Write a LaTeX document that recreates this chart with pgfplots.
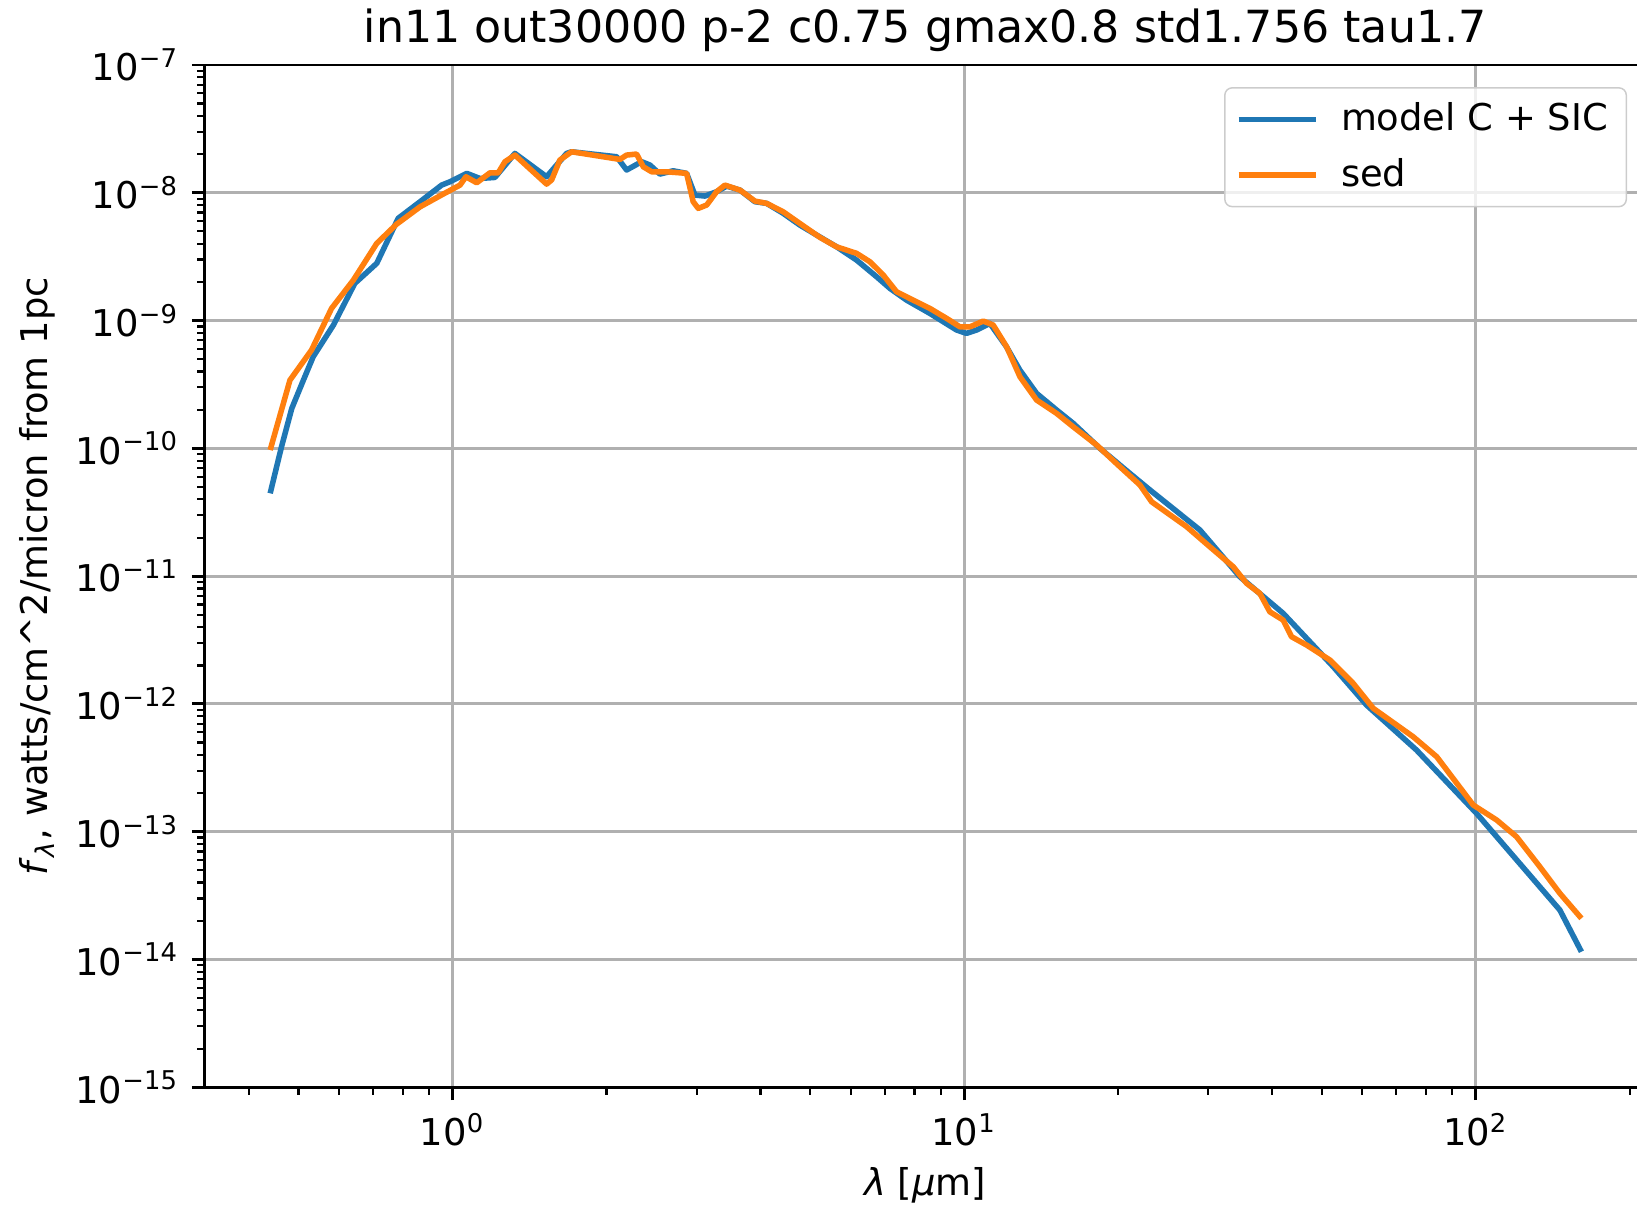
\documentclass[border=0pt]{standalone}
\usepackage{fontspec}
\setmainfont{DejaVu Sans}
\usepackage{pgfplots}
\pgfplotsset{compat=1.18}
\definecolor{mplblue}{HTML}{1F77B4}
\definecolor{mplorange}{HTML}{FF7F0E}
\definecolor{gridgray}{HTML}{B0B0B0}
\definecolor{legendgray}{HTML}{CCCCCC}
\begin{document}
\begin{tikzpicture}
\clip (-55.5pt,-33pt) rectangle (388.2pt,294.7pt);
\begin{axis}[
  at={(0pt,0pt)}, anchor=south west,
  scale only axis, width=390.5pt, height=277.1pt,
  xmode=log, ymode=log,
  xmin=0.3278, xmax=214.8, ymin=1e-15, ymax=1e-7,
  xtick={1,10,100},
  xticklabels={10\textsuperscript{0},10\textsuperscript{1},10\textsuperscript{2}},
  minor xtick={0.4,0.5,0.6,0.7,0.8,0.9,2,3,4,5,6,7,8,9,20,30,40,50,60,70,80,90,200},
  ytick={1e-15,1e-14,1e-13,1e-12,1e-11,1e-10,1e-9,1e-8,1e-7},
  yticklabels={10\textsuperscript{−15},10\textsuperscript{−14},10\textsuperscript{−13},10\textsuperscript{−12},10\textsuperscript{−11},10\textsuperscript{−10},10\textsuperscript{−9},10\textsuperscript{−8},10\textsuperscript{−7}},
  minor ytick={2e-15,3e-15,4e-15,5e-15,6e-15,7e-15,8e-15,9e-15,
    2e-14,3e-14,4e-14,5e-14,6e-14,7e-14,8e-14,9e-14,
    2e-13,3e-13,4e-13,5e-13,6e-13,7e-13,8e-13,9e-13,
    2e-12,3e-12,4e-12,5e-12,6e-12,7e-12,8e-12,9e-12,
    2e-11,3e-11,4e-11,5e-11,6e-11,7e-11,8e-11,9e-11,
    2e-10,3e-10,4e-10,5e-10,6e-10,7e-10,8e-10,9e-10,
    2e-9,3e-9,4e-9,5e-9,6e-9,7e-9,8e-9,9e-9,
    2e-8,3e-8,4e-8,5e-8,6e-8,7e-8,8e-8,9e-8},
  tick pos=left, tick align=outside,
  major tick length=3.5pt, minor tick length=2pt,
  every tick/.style={black, line width=0.8pt},
  minor tick style={black, line width=0.6pt},
  axis line style={line width=0.8pt},
  grid=major, major grid style={color=gridgray, line width=0.8pt},
  tick label style={font=\fontsize{10}{12}\selectfont},
  title={in11 out30000 p-2 c0.75 gmax0.8 std1.756 tau1.7},
  title style={font=\fontsize{12}{14}\selectfont, at={(0.5,1)}, anchor=base},
  xlabel={\textit{λ} [\textit{μ}m]},
  ylabel={\textit{f}\textsubscript{\textit{λ}}, watts/cm\textasciicircum 2/micron from 1pc},
  label style={font=\fontsize{10}{12}\selectfont},
  xlabel style={at={(axis description cs:0.5,-0.0956)}, anchor=center},
  ylabel style={at={(axis description cs:-0.116,0.5)}, anchor=center, rotate=0},
  legend style={at={(1,1)}, anchor=north east, xshift=-5pt, yshift=-6pt,
    draw=legendgray, rounded corners=2pt, fill=white, fill opacity=0.8, text opacity=1,
    font=\fontsize{10}{12}\selectfont, inner xsep=3pt, inner ysep=2pt, row sep=2pt},
  legend cell align=left,
  legend image code/.code={\draw[#1] (0pt,0pt) -- (21pt,0pt); \path (25pt,0pt);},
]
\addplot[mplblue, line width=1.5pt, line join=round] coordinates {
(0.440,4.446e-11) (0.463,1.028e-10) (0.485,2.056e-10) (0.511,3.420e-10)
(0.534,5.212e-10) (0.585,9.225e-10) (0.644,1.954e-9) (0.711,2.805e-9)
(0.783,6.310e-9) (0.864,8.511e-9) (0.952,1.148e-8) (0.988,1.219e-8)
(1.066,1.419e-8) (1.131,1.294e-8) (1.210,1.318e-8) (1.324,2.032e-8)
(1.527,1.334e-8) (1.671,2.032e-8) (1.709,2.094e-8) (2.093,1.914e-8)
(2.189,1.507e-8) (2.342,1.750e-8) (2.431,1.648e-8) (2.543,1.400e-8)
(2.700,1.486e-8) (2.868,1.419e-8) (2.977,9.594e-9) (3.115,9.419e-9)
(3.282,1.019e-8) (3.434,1.127e-8) (3.646,1.050e-8) (3.900,8.511e-9)
(4.112,8.260e-9) (4.430,6.902e-9) (4.775,5.585e-9) (5.149,4.667e-9)
(5.634,3.776e-9) (6.164,2.972e-9) (6.745,2.203e-9) (7.162,1.786e-9)
(7.719,1.445e-9) (8.572,1.138e-9) (9.667,8.433e-10) (10.11,7.943e-10)
(10.58,8.433e-10) (11.23,9.506e-10) (12.10,6.237e-10) (12.85,4.102e-10)
(13.86,2.692e-10) (15.17,1.995e-10) (16.35,1.567e-10) (18.43,1.000e-10)
(21.09,6.368e-11) (23.09,4.721e-11) (28.91,2.296e-11) (34.61,9.886e-12)
(42.05,5.117e-12) (52.70,1.954e-12) (61.21,9.795e-13) (76.65,4.355e-13)
(100.4,1.393e-13) (146.1,2.438e-14) (161.0,1.151e-14)
};
\addlegendentry{model C + SIC}
\addplot[mplorange, line width=1.5pt, line join=round] coordinates {
(0.440,9.705e-11) (0.481,3.420e-10) (0.530,5.875e-10) (0.580,1.245e-9)
(0.640,2.075e-9) (0.711,4.018e-9) (0.778,5.689e-9) (0.864,7.762e-9)
(0.959,9.772e-9) (1.034,1.148e-8) (1.062,1.334e-8) (1.115,1.197e-8)
(1.183,1.432e-8) (1.228,1.432e-8) (1.266,1.750e-8) (1.324,1.972e-8)
(1.527,1.169e-8) (1.562,1.259e-8) (1.621,1.803e-8) (1.709,2.094e-8)
(2.124,1.824e-8) (2.189,1.972e-8) (2.290,2.009e-8) (2.360,1.596e-8)
(2.451,1.459e-8) (2.622,1.459e-8) (2.868,1.419e-8) (2.954,8.511e-9)
(3.022,7.551e-9) (3.139,8.017e-9) (3.282,1.019e-8) (3.407,1.148e-8)
(3.646,1.050e-8) (3.900,8.610e-9) (4.112,8.260e-9) (4.430,7.096e-9)
(4.775,5.754e-9) (5.226,4.477e-9) (5.634,3.776e-9) (6.164,3.357e-9)
(6.545,2.884e-9) (6.950,2.270e-9) (7.380,1.679e-9) (7.953,1.445e-9)
(8.572,1.245e-9) (9.244,1.040e-9) (9.813,8.933e-10) (10.27,8.933e-10)
(10.90,9.908e-10) (11.40,9.225e-10) (12.11,6.237e-10) (12.86,3.631e-10)
(13.86,2.388e-10) (15.16,1.879e-10) (16.34,1.476e-10) (18.16,1.062e-10)
(20.17,7.178e-11) (22.07,5.164e-11) (23.26,3.819e-11) (27.23,2.438e-11)
(30.23,1.698e-11) (33.57,1.186e-11) (35.66,8.790e-12) (37.86,7.328e-12)
(39.60,5.260e-12) (42.05,4.529e-12) (43.67,3.357e-12) (46.71,2.891e-12)
(51.88,2.208e-12) (57.63,1.449e-12) (63.10,9.225e-13) (75.51,5.534e-13)
(83.92,3.864e-13) (98.92,1.618e-13) (109.9,1.236e-13) (120.2,9.141e-14)
(133.5,5.321e-14) (146.1,3.296e-14) (161.0,2.099e-14)
};
\addlegendentry{sed}
\end{axis}
\end{tikzpicture}
\end{document}
